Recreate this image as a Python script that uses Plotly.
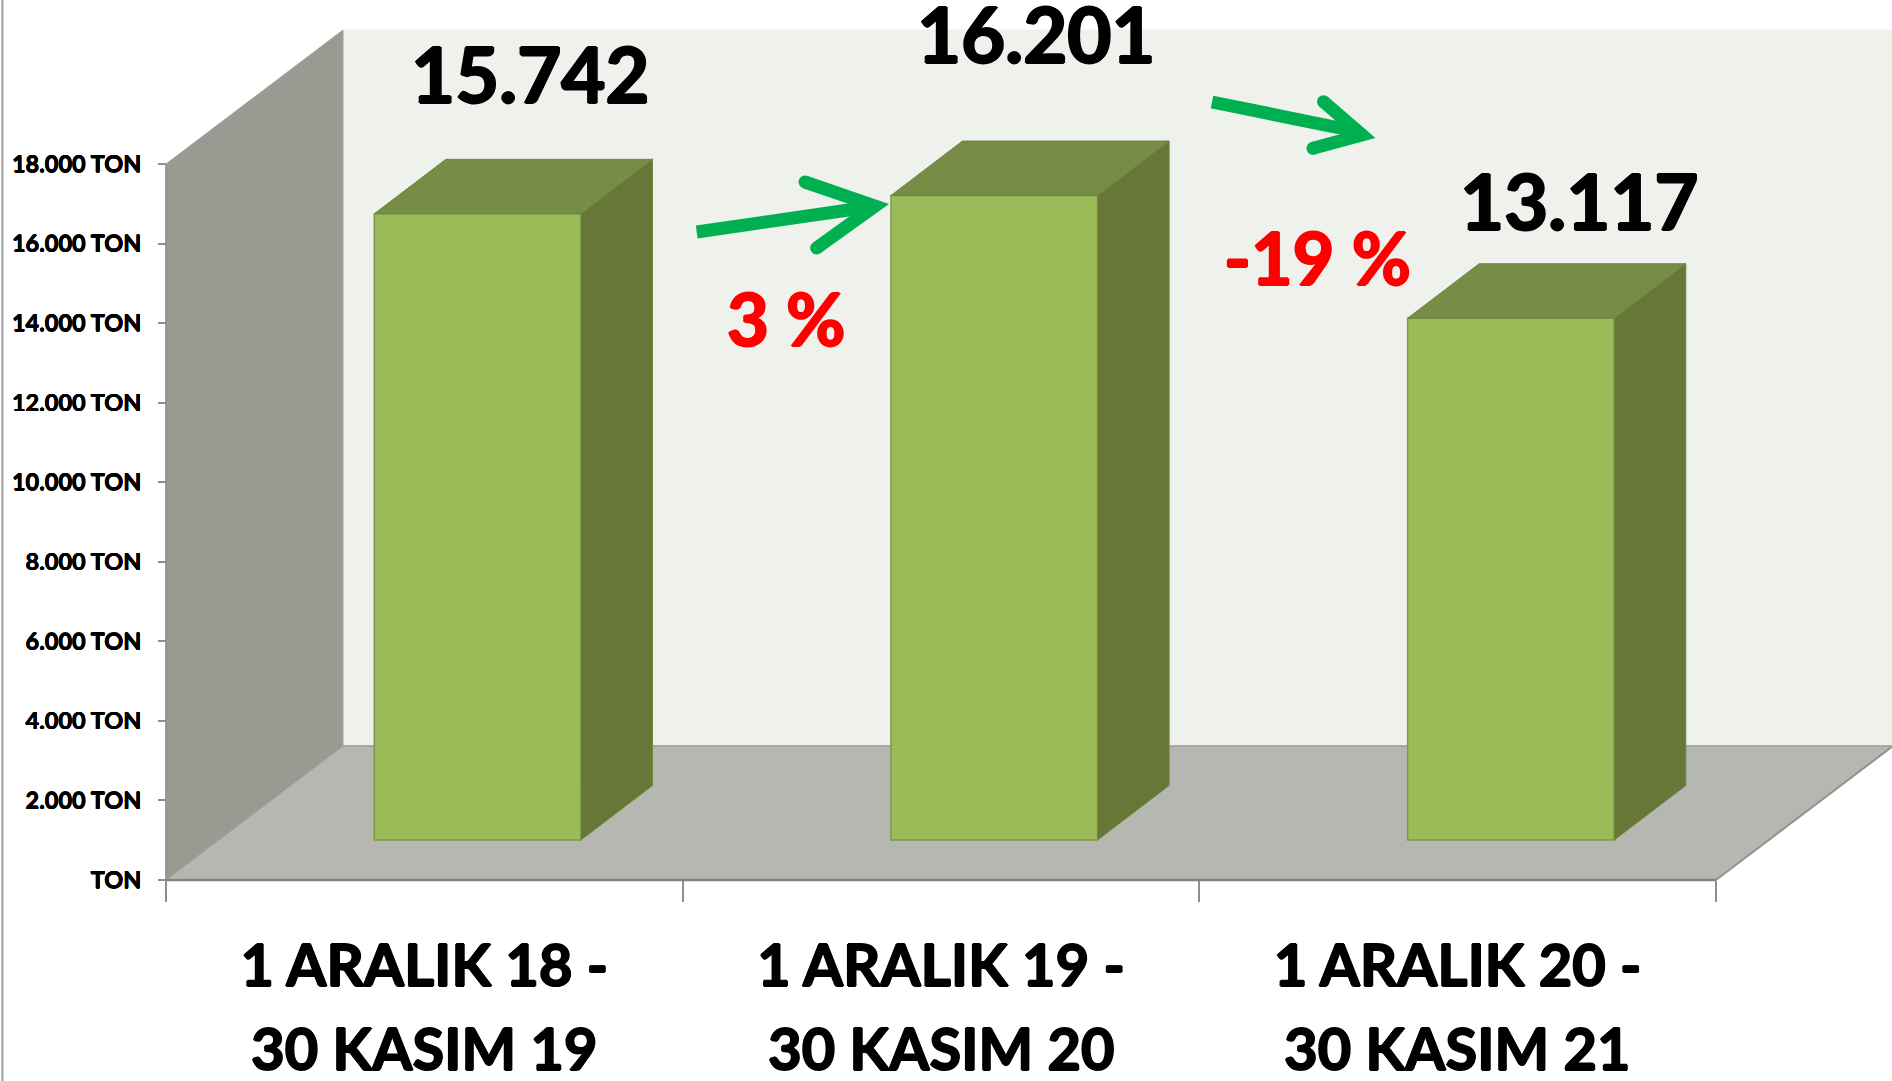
import plotly.graph_objects as go

# ---- data ----
categories_line1 = ["1 ARALIK 18 -", "1 ARALIK 19 -", "1 ARALIK 20 -"]
categories_line2 = ["30 KASIM 19", "30 KASIM 20", "30 KASIM 21"]
values = [15742, 16201, 13117]
y_ticks = [0, 2000, 4000, 6000, 8000, 10000, 12000, 14000, 16000, 18000]
y_tick_labels = ["TON", "2.000 TON", "4.000 TON", "6.000 TON", "8.000 TON", "10.000 TON",
                 "12.000 TON", "14.000 TON", "16.000 TON", "18.000 TON"]
change_labels = ["3 %", "-19 %"]

# ---- page geometry ----
W, H = 1892, 1081
X0_PX, X_END_PX, Y0_PX, Y_TOP_PX = 166.0, 1716.0, 880.0, 164.0
CAT_PX = (X_END_PX - X0_PX) / len(values)
VAL_PX = (Y0_PX - Y_TOP_PX) / y_ticks[-1]
x_range = [-0.5 - X0_PX / CAT_PX, -0.5 + (W - X0_PX) / CAT_PX]
y_range = [-(H - Y0_PX) / VAL_PX, Y0_PX / VAL_PX]

# oblique depth of the 3-D box, as axis offsets
WALL_DX, WALL_DY = 177 / CAT_PX, 134 / VAL_PX
FRONT_DX, FRONT_DY = 53.3 / CAT_PX, 40 / VAL_PX
BAR_DX, BAR_DY = 71.5 / CAT_PX, 54.5 / VAL_PX
BAR_W = 0.4

C_BACK, C_LEFT, C_FLOOR = "#EFF2EC", "#999B93", "#B5B7B0"
C_FRONT, C_TOP, C_SIDE, C_EDGE = "#9BBB59", "#778C44", "#667737", "#7E9A48"
C_LINE, C_ARROW = "#8C8C8C", "#00B050"
FONT = "Lato"


def fat(color, a):
    return f"{a}px 0 0 {color}, -{a}px 0 0 {color}, 0 {a}px 0 {color}, 0 -{a}px 0 {color}"


fig = go.Figure()

# front faces are real bars, lifted off the floor by the oblique offset
fig.add_trace(go.Bar(
    x=[i + FRONT_DX for i in range(len(values))], y=values, base=FRONT_DY, width=BAR_W,
    marker=dict(color=C_FRONT, line=dict(color=C_EDGE, width=1.5)),
    hoverinfo="skip", showlegend=False))

# top and side faces, derived from the same values
for i, v in enumerate(values):
    xl = i + FRONT_DX - BAR_W / 2
    xr = i + FRONT_DX + BAR_W / 2
    yb = FRONT_DY
    yt = FRONT_DY + v
    fig.add_trace(go.Scatter(
        x=[xl, xr, xr + BAR_DX, xl + BAR_DX, xl], y=[yt, yt, yt + BAR_DY, yt + BAR_DY, yt],
        mode="lines", fill="toself", fillcolor=C_TOP, line=dict(color="#6F8540", width=1),
        hoverinfo="skip", showlegend=False))
    fig.add_trace(go.Scatter(
        x=[xr, xr + BAR_DX, xr + BAR_DX, xr, xr], y=[yb, yb + BAR_DY, yt + BAR_DY, yt, yb],
        mode="lines", fill="toself", fillcolor=C_SIDE, line=dict(color="#71883F", width=1),
        hoverinfo="skip", showlegend=False))

xa, xb = -0.5, len(values) - 0.5
ymax = y_ticks[-1]


def poly(xs, ys, fill, line=None, lw=1.0):
    d = "M " + " L ".join(f"{a},{b}" for a, b in zip(xs, ys)) + " Z"
    return dict(type="path", path=d, xref="x", yref="y", layer="below", fillcolor=fill,
                line=dict(color=line or fill, width=lw))


def seg(x0, y0, x1, y1, color=C_LINE, lw=1.5):
    return dict(type="line", xref="x", yref="y", x0=x0, y0=y0, x1=x1, y1=y1, layer="below",
                line=dict(color=color, width=lw))


def px(x, y):
    return x / W, 1 - y / H


def stroke(points, w=13):
    d = "M " + " L ".join("{},{}".format(*px(*p)) for p in points)
    return dict(type="path", path=d, xref="paper", yref="paper", layer="above",
                line=dict(color=C_ARROW, width=w), fillcolor="rgba(0,0,0,0)")


def dot(p, w=13):
    a, b = px(p[0] - w / 2, p[1] - w / 2)
    c, d = px(p[0] + w / 2, p[1] + w / 2)
    return dict(type="circle", xref="paper", yref="paper", x0=a, x1=c, y0=b, y1=d, layer="above",
                fillcolor=C_ARROW, line=dict(width=0))


def arrow(start, vertex, barb1, barb2, shaft_end):
    return [stroke([start, shaft_end]), stroke([barb1, vertex, barb2]), dot(barb1), dot(barb2)]


shapes = [
    poly([xa + WALL_DX, x_range[1], x_range[1], xa + WALL_DX],
         [WALL_DY, WALL_DY, ymax + WALL_DY, ymax + WALL_DY], C_BACK),
    poly([xa, xa + WALL_DX, xa + WALL_DX, xa], [0, WALL_DY, ymax + WALL_DY, ymax], C_LEFT, "#A3A59E", 1),
    poly([xa, xb, xb + WALL_DX, xa + WALL_DX], [0, 0, WALL_DY, WALL_DY], C_FLOOR, "#9C9E98", 1),
    seg(xb, 0, xb + WALL_DX, WALL_DY, "#929292", 2),
    seg(xa, 0, xb, 0, "#848484", 2.5),
    seg(xa, 0, xa, ymax, "#8E8E8E", 1.5),
    seg(xa + WALL_DX, WALL_DY, x_range[1], WALL_DY, "#A2A39C", 1.5),
    dict(type="line", xref="paper", yref="paper", x0=2.4 / W, x1=2.4 / W, y0=0, y1=1,
         line=dict(color="#A6A6A6", width=2.2), layer="below"),
]
shapes += arrow((696.7, 232), (875, 206), (805, 182), (816.6, 248), (866, 207.5))
shapes += arrow((1212, 102), (1362, 135), (1323.5, 101.7), (1313, 148.3), (1352, 130.5))

annotations = []
label_shift = [(106, 140), (95, 162), (121, 118)]
for i, v in enumerate(values):
    annotations.append(dict(
        x=i, y=v + FRONT_DY, xref="x", yref="y", xshift=label_shift[i][0], yshift=label_shift[i][1],
        text=f"{v:,}".replace(",", "."), showarrow=False, xanchor="center", yanchor="middle",
        font=dict(family=FONT, size=76, color="#000000", weight=700, shadow=fat("#000", 1.2))))
for text, (cx, cy) in zip(change_labels, [(786, 318), (1317, 257)]):
    a, b = px(cx, cy)
    annotations.append(dict(x=a, y=b, xref="paper", yref="paper", text=text, showarrow=False,
                            xanchor="center", yanchor="middle",
                            font=dict(family=FONT, size=72, color="#FF0000", weight=700,
                                      shadow=fat("#F00", 1.2))))
for i, text in enumerate(categories_line2):
    annotations.append(dict(x=i, y=1 - 1047 / H, xref="x", yref="paper", text=text, showarrow=False,
                            xanchor="center", yanchor="middle",
                            font=dict(family=FONT, size=58, color="#000000", weight=700,
                                      shadow=fat("#000", 0.9))))

fig.update_layout(
    width=W, height=H, margin=dict(l=0, r=0, t=0, b=0), autosize=False,
    paper_bgcolor="white", plot_bgcolor="rgba(0,0,0,0)", showlegend=False,
    shapes=shapes, annotations=annotations,
    xaxis=dict(range=x_range, tickmode="array", tickvals=list(range(len(values))), ticktext=categories_line1,
               showgrid=False, zeroline=False, showline=False, ticks="", anchor="free",
               position=(H - Y0_PX) / H, ticklabelstandoff=47,
               tickfont=dict(family=FONT, size=58, color="#000000", weight=700, shadow=fat("#000", 0.9)),
               minor=dict(tickmode="array", tickvals=[-0.5, 0.5, 1.5, 2.5], ticks="outside", ticklen=21,
                          tickwidth=1.5, tickcolor="#8E8E8E", showgrid=False)),
    yaxis=dict(range=y_range, tickmode="array", tickvals=y_ticks, ticktext=y_tick_labels,
               showgrid=False, zeroline=False, showline=False, ticks="outside", ticklen=8, tickwidth=1.5,
               tickcolor="#8E8E8E", anchor="free", position=X0_PX / W, ticklabelstandoff=12,
               tickfont=dict(family=FONT, size=23.5, color="#000000", weight=700, shadow=fat("#000", 0.3))),
)

fig.write_html("out.html", config={"displayModeBar": False},
               post_script="document.body.style.margin='0';document.documentElement.style.overflow='hidden';")
